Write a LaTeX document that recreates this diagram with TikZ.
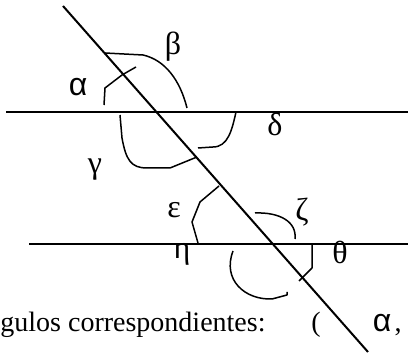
\documentclass[tikz,border=0pt]{standalone}
\usepackage{fontspec}
\setmainfont{Liberation Serif}
\newfontfamily\sfgreek{Liberation Sans}

\begin{document}
\begin{tikzpicture}[x=0.5pt, y=-0.5pt,
    mainline/.style={line width=1pt},
    arcline/.style={line width=0.75pt, line join=round},
    angname/.style={inner sep=0pt, font=\fontsize{16}{18}\selectfont},
    sfname/.style={inner sep=0pt, font=\sfgreek\fontsize{16}{18}\selectfont}]
    \useasboundingbox (0,0) rectangle (408,356);

    \draw[mainline] (6,112) -- (408,112);
    \draw[mainline] (29,244) -- (408,244);
    \draw[mainline] (63,6) -- (368,352);

    \draw[arcline] (104,105) -- (105,88) -- (122,75) -- (136,67);
    \draw[arcline] (105,53) -- (143,55) .. controls (165,60) and (180,80) .. (187,108);
    \draw[arcline] (120,115) -- (122,138) .. controls (126,160) and (131,168) .. (147,168)
      -- (170,168) -- (197,157);
    \draw[arcline] (236,112) .. controls (232,130) and (228,147) .. (213,147) -- (198,148);
    \draw[arcline] (219,186) -- (200,202) -- (192,222) -- (198,243);
    \draw[arcline] (255,213) .. controls (280,212) and (297,222) .. (295,239);
    \draw[arcline] (233,251) .. controls (222,280) and (245,300) .. (272,299)
      -- (287,295) -- (287,292);
    \draw[arcline] (312,245) -- (312,268) -- (299,281);

    \node[sfname] (alpha) at (78,87) {α};
    \node[angname] (beta) at (173,47) {β};
    \node[angname] (gamma) at (95,170) {γ};
    \node[angname] (delta) at (275,124) {δ};
    \node[angname] (epsilon) at (174,210) {ε};
    \node[angname] (zeta) at (302,212) {ζ};
    \node[angname] (eta) at (182,254) {η};
    \node[angname] (theta) at (340,252) {θ};

    \node[inner sep=0pt, anchor=base west, font=\fontsize{14}{16}\selectfont] (corresp)
      at (0,332) {gulos correspondientes:};
    \node[inner sep=0pt, anchor=base, font=\fontsize{14}{16}\selectfont] (paren)
      at (316,332) {(};
    \node[sfname, anchor=base] (alphab) at (382,332) {α};
    \node[inner sep=0pt, anchor=base, font=\fontsize{14}{16}\selectfont] (comma)
      at (398,332) {,};
  \end{tikzpicture}
\end{document}
